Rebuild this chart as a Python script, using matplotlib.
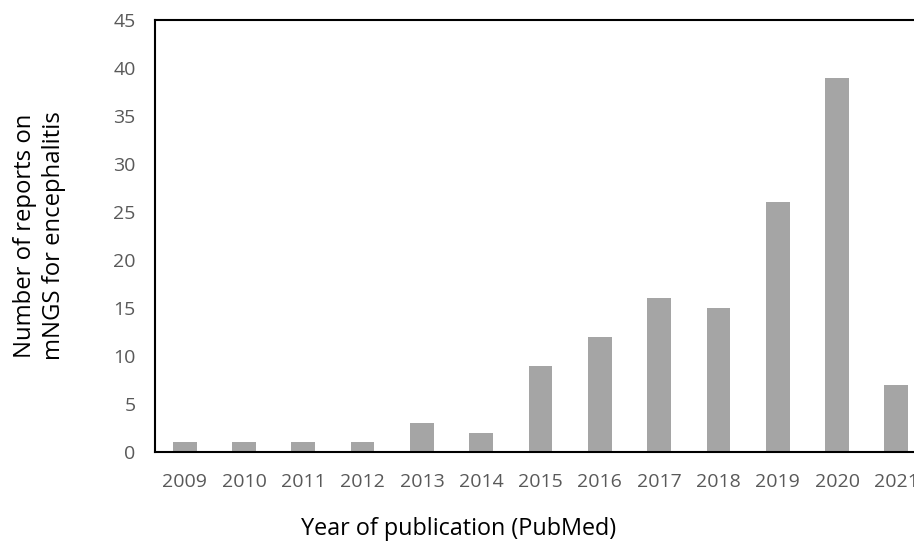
import matplotlib.pyplot as plt
import numpy as np

plt.rcParams['font.family'] = ['Open Sans', 'DejaVu Sans']

years = ['2009', '2010', '2011', '2012', '2013', '2014', '2015',
         '2016', '2017', '2018', '2019', '2020', '2021']
reports = [1, 1, 1, 1, 3, 2, 9, 12, 16, 15, 26, 39, 7]

fig = plt.figure(figsize=(9.14, 5.41), dpi=100)
# axes reaches past the right edge like in the original (clipped)
ax = fig.add_axes([155 / 914, 89 / 541, 771 / 914, 432 / 541])

x = np.arange(len(years))
ax.bar(x, reports, width=0.4, color='#a5a5a5', zorder=2)

ax.set_xlim(-0.5, len(years) - 0.5)
ax.set_ylim(0, 45)
ax.set_yticks(np.arange(0, 46, 5))
ax.set_xticks(x)
ax.set_xticklabels(years)
ax.tick_params(axis='both', length=0, labelsize=14, colors='#595959')
ax.tick_params(axis='x', pad=15)
ax.tick_params(axis='y', pad=14)

for side in ['left', 'top', 'bottom', 'right']:
    ax.spines[side].set_linewidth(1.5)
    ax.spines[side].set_color('black')

ax.set_xlabel('Year of publication (PubMed)', fontsize=16.8)
ax.set_ylabel('Number of reports on\nmNGS for encephalitis', fontsize=17.2,
              linespacing=1.3)
ax.xaxis.set_label_coords(0.394, -0.151)
ax.yaxis.set_label_coords(-0.115, 0.5)

fig.savefig('out.png', dpi=100)
